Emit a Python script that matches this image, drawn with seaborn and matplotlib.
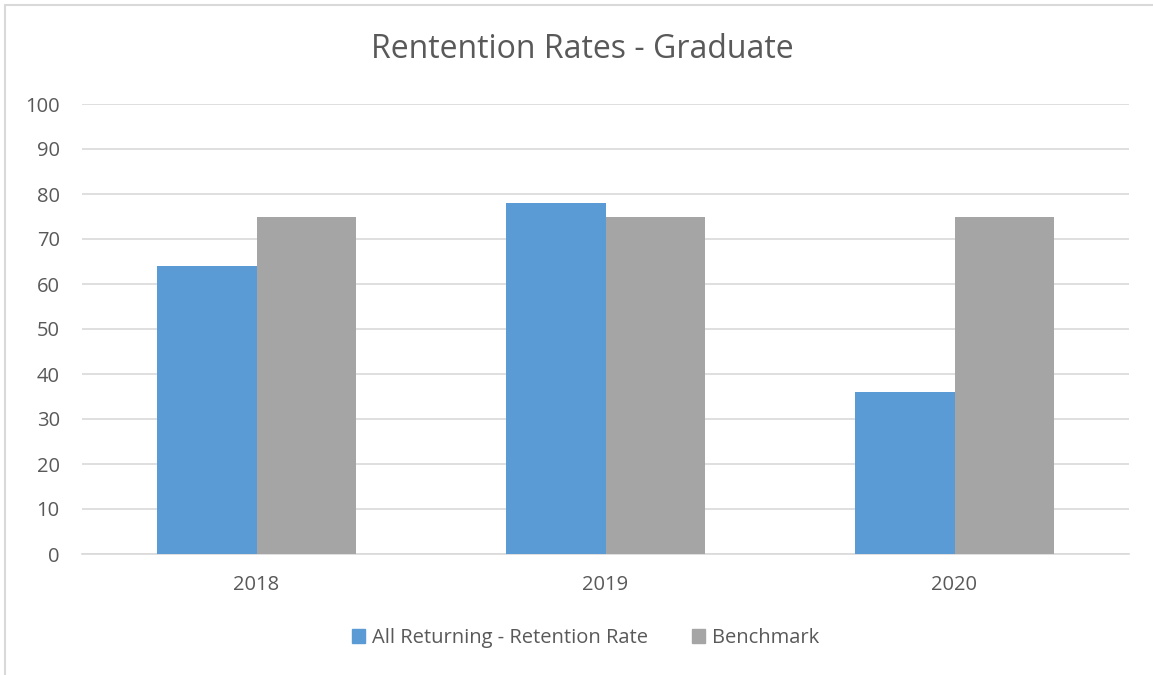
import seaborn as sns
import matplotlib.pyplot as plt
import pandas as pd
from matplotlib.patches import Rectangle

years = ["2018", "2019", "2020"]
retention = [64, 78, 36]
benchmark = [75, 75, 75]
series_names = ["All Returning - Retention Rate", "Benchmark"]
colors = ["#5B9BD5", "#A5A5A5"]

df = pd.DataFrame({
    "year": years * 2,
    "value": retention + benchmark,
    "series": [series_names[0]] * 3 + [series_names[1]] * 3,
})

sns.set_style("white")
plt.rcParams['font.family'] = ['Open Sans', 'DejaVu Sans']
text_col = "#595959"

fig = plt.figure(figsize=(11.53, 6.75), dpi=100)
ax = fig.add_axes([82 / 1153, 1 - 554 / 675, (1129 - 82) / 1153, 450 / 675])

sns.barplot(data=df, x="year", y="value", hue="series", palette=colors,
            width=0.573, gap=0, saturation=1, ax=ax, legend=False, zorder=3,
            linewidth=0)

ax.set_ylim(0, 100)
ax.set_yticks(range(0, 101, 10))
ax.set_xlim(-0.5, 2.5)
ax.set(xlabel="", ylabel="")
ax.grid(axis="y", color="#D9D9D9", linewidth=1.2, zorder=0)
ax.set_axisbelow(True)
sns.despine(ax=ax, left=True, top=True, right=True)
ax.spines["bottom"].set_color("#D9D9D9")
ax.spines["bottom"].set_linewidth(1.2)
ax.tick_params(axis="y", length=0, pad=16, labelsize=14.5, labelcolor=text_col)
ax.tick_params(axis="x", length=0, pad=15, labelsize=14.5, labelcolor=text_col)

fig.text(0.505, 1 - 49 / 675, "Rentention Rates - Graduate", ha="center", va="center",
         fontsize=23, color=text_col)

handles = [Rectangle((0, 0), 1, 1, color=c) for c in colors]
fig.legend(handles, series_names, loc="center", bbox_to_anchor=(0.508, 1 - 638 / 675),
           ncol=2, frameon=False, fontsize=14.5, labelcolor=text_col,
           handlelength=0.65, handleheight=0.65, handletextpad=0.35, columnspacing=2.2)

# outer chart border (only left/top visible in the crop)
fig.patches.append(Rectangle((5 / 1153, -0.1), 1.2, 1 - 5 / 675 + 0.1,
                             transform=fig.transFigure, fill=False,
                             edgecolor="#D9D9D9", linewidth=1.5))

fig.savefig("out.png", dpi=100)
